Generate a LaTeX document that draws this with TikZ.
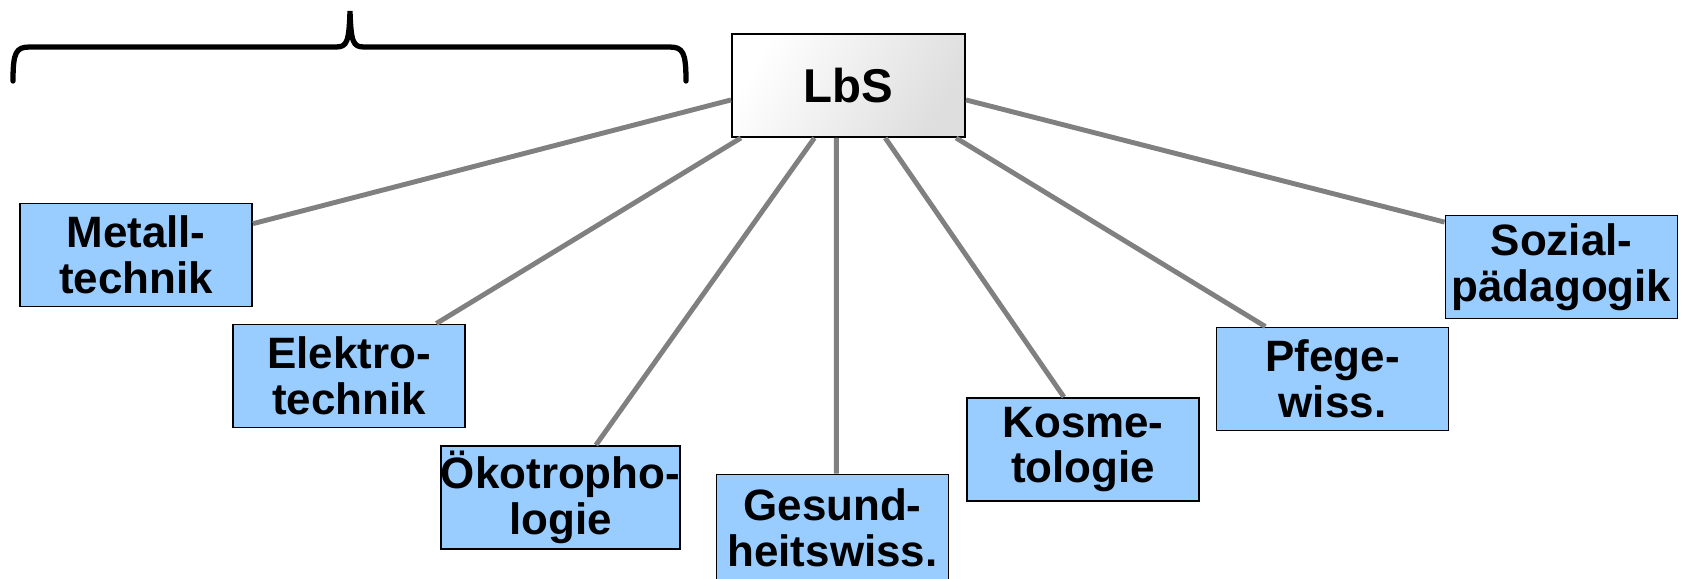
\documentclass[tikz,border=0pt]{standalone}
\usepackage{fontspec}
\setmainfont{Liberation Sans}
\usetikzlibrary{positioning}
\definecolor{fachblau}{HTML}{99CCFF}
\definecolor{liniengrau}{HTML}{808080}

\begin{document}
\begin{tikzpicture}[
    x=0.2mm, y=-0.2mm,
    fach/.style={draw, line width=1.1pt, fill=fachblau, align=center, inner sep=0pt,
        minimum width=46.4mm, minimum height=20.6mm,
        font=\fontsize{25}{26}\selectfont\bfseries},
    wurzel/.style={draw, line width=1.1pt, left color=white, right color=black!13, shading angle=60,
        minimum width=46.6mm, minimum height=20.6mm, inner sep=0pt,
        font=\fontsize{27}{28}\selectfont\bfseries},
    linie/.style={draw=liniengrau, line width=2.8pt},
    klammer/.style={draw, line width=3pt, line cap=round}
]
    \useasboundingbox (0,0) rectangle (1688,578);
    % Fachrichtungen
    \node[wurzel] (lbs) at (848.5,85.5) {LbS};
    \node[fach] (metall) at (136,255) {Metall-\\technik};
    \node[fach] (elektro) at (349,376) {Elektro-\\technik};
    \node[fach] (oeko) at (560.5,497.5) {Ökotropho-\\logie};
    \node[fach, minimum height=21.4mm] (gesund) at (832.5,528) {Gesund-\\heitswiss.};
    \node[fach] (kosme) at (1083,449.5) {Kosme-\\tologie};
    \node[fach] (pflege) at (1332.5,379) {Pfege-\\wiss.};
    \node[fach] (sozial) at (1561.5,267) {Sozial-\\pädagogik};
    % Verbindungen
    \draw[linie] (lbs.187) -- (metall.15);
    \draw[linie] (lbs.206) -- (elektro.31);
    \draw[linie] (lbs.237) -- (oeko.56);
    \draw[linie] (lbs.257) -- (gesund.86);
    \draw[linie] (lbs.305) -- (kosme.110);
    \draw[linie] (lbs.334) -- (pflege.142);
    \draw[linie] (lbs.353) -- (sozial.159);
    % Klammer
    \draw[klammer] (13,81) .. controls (13,52) and (16,47) .. (30,47) -- (336,47)
        .. controls (347,47) and (349,42) .. (350,11)
        .. controls (351,42) and (353,47) .. (364,47) -- (669,47)
        .. controls (683,47) and (686,52) .. (686,81);
\end{tikzpicture}
\end{document}
